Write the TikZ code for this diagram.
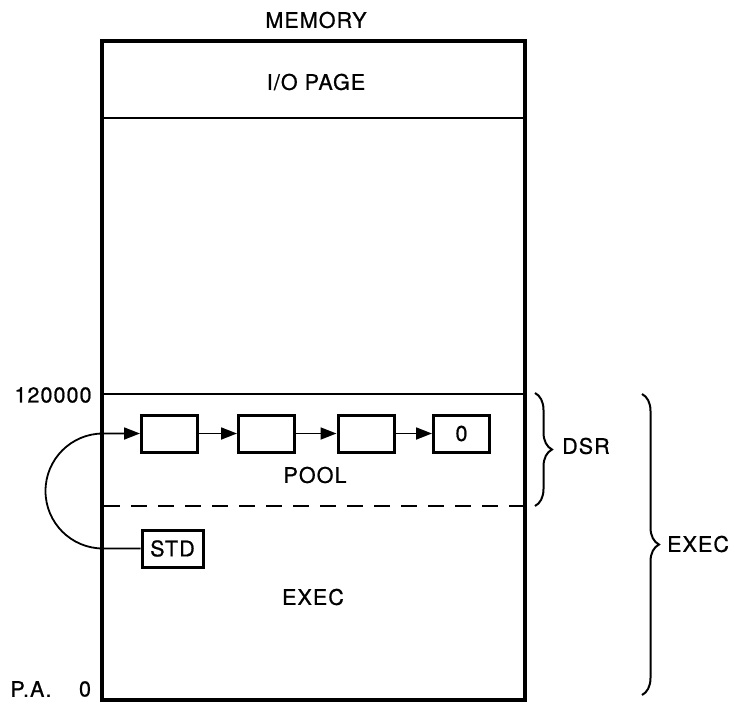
\documentclass[tikz,border=0pt]{standalone}
\usepackage{fontspec}
\setmainfont{TeX Gyre Heros}[LetterSpace=5, FakeBold=0.8]
\usetikzlibrary{arrows.meta,decorations.pathreplacing}
\tikzset{
  lbl/.style={inner sep=0pt, font=\fontsize{21.5}{25}\selectfont},
  cell/.style={draw, line width=3pt, minimum width=56pt, minimum height=37pt, inner sep=0pt, font=\fontsize{21.5}{25}\selectfont},
  link/.style={line width=1.8pt, -{Triangle[length=16pt,width=12pt]}},
  thinline/.style={line width=1.8pt},
  brc/.style={line width=2pt, decorate, decoration={brace, amplitude=17pt}}
}
\begin{document}
\begin{tikzpicture}[x=1pt,y=-1pt]
\useasboundingbox (0,0) rectangle (733,704);
% memory outline
\draw[line width=3.6pt] (102,41) rectangle (525,700);
\draw[thinline] (102,118) -- (525,118);
\draw[thinline] (102,394) -- (525,394);
\draw[thinline, dash pattern=on 16pt off 11pt] (104,506) -- (525,506);
% labels
\node[lbl] (mem) at (316,20) {MEMORY};
\node[lbl] (io) at (316,82) {I/O PAGE};
\node[lbl] (pool) at (315,475) {POOL};
\node[lbl] (exec) at (313,597) {EXEC};
\node[lbl] (addr) at (53,395) {120000};
\node[lbl] (pa) at (31,689) {P.A.};
\node[lbl] (zero) at (85,689) {0};
% list boxes
\node[cell] (b1) at (169.5,433.5) {};
\node[cell] (b2) at (266.5,433.5) {};
\node[cell] (b3) at (366,433.5) {};
\node[cell] (b4) at (461.5,433.5) {0};
\node[cell, minimum width=61pt] (std) at (172.5,548.5) {STD};
\draw[link] (b1.east) -- (b2.west);
\draw[link] (b2.east) -- (b3.west);
\draw[link] (b3.east) -- (b4.west);
\coordinate (wb) at (103,548.5);
\draw[link] (std.west) -- (wb) arc[start angle=90, end angle=270, radius=57.5] -- (b1.west);
% braces
\draw[brc] (535,393) -- (535,506);
\node[lbl, anchor=west] (dsr) at (562,446) {DSR};
\draw[brc] (642,394) -- (642,695);
\node[lbl, anchor=west] (execb) at (667,544) {EXEC};
\end{tikzpicture}
\end{document}
